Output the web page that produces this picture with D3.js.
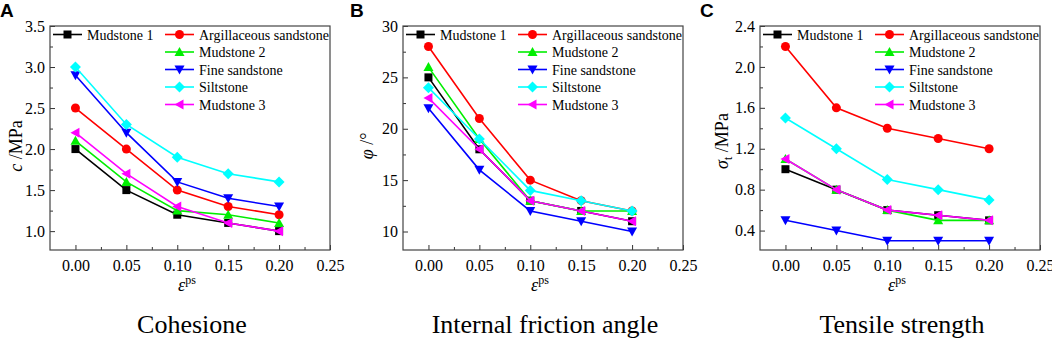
<!DOCTYPE html>
<html>
<head>
<meta charset="utf-8">
<script src="https://cdn.jsdelivr.net/npm/d3@7"></script>
<style>
  html, body { margin: 0; padding: 0; background: #fff; }
  svg { display: block; }
  text { fill: #000; }
</style>
</head>
<body>
<svg id="chart" width="1052" height="341"></svg>
<script>
// ---------------- DATA ----------------
const xValues = [0.00, 0.05, 0.10, 0.15, 0.20];
const xTicks = [0.00, 0.05, 0.10, 0.15, 0.20, 0.25];
const seriesNames = ["Mudstone 1", "Argillaceous sandstone", "Mudstone 2", "Fine sandstone", "Siltstone", "Mudstone 3"];

// Cohesion c (MPa)
const cohesionValues = [
  [2.0, 1.5, 1.2, 1.1, 1.0],
  [2.5, 2.0, 1.5, 1.3, 1.2],
  [2.1, 1.6, 1.25, 1.2, 1.1],
  [2.9, 2.2, 1.6, 1.4, 1.3],
  [3.0, 2.3, 1.9, 1.7, 1.6],
  [2.2, 1.7, 1.3, 1.1, 1.0]
];
const cohesionTicks = [1.0, 1.5, 2.0, 2.5, 3.0, 3.5];

// Internal friction angle phi (deg)
const frictionValues = [
  [25, 18, 13, 12, 11],
  [28, 21, 15, 13, 12],
  [26, 19, 13, 12, 12],
  [22, 16, 12, 11, 10],
  [24, 19, 14, 13, 12],
  [23, 18, 13, 12, 11]
];
const frictionTicks = [10, 15, 20, 25, 30];

// Tensile strength sigma_t (MPa)
const tensileValues = [
  [1.0, 0.8, 0.6, 0.55, 0.5],
  [2.2, 1.6, 1.4, 1.3, 1.2],
  [1.1, 0.8, 0.6, 0.5, 0.5],
  [0.5, 0.4, 0.3, 0.3, 0.3],
  [1.5, 1.2, 0.9, 0.8, 0.7],
  [1.1, 0.8, 0.6, 0.55, 0.5]
];
const tensileTicks = [0.4, 0.8, 1.2, 1.6, 2.0, 2.4];

const panelTitles = ["Cohesione", "Internal friction angle", "Tensile strength"];
const panelLetters = ["A", "B", "C"];

// ---------------- STYLE ----------------
const serif = '"Liberation Serif", "Times New Roman", serif';
const sans = '"Liberation Sans", Arial, sans-serif';
const seriesColors = ["#000000", "#ff0000", "#00ee00", "#0000ff", "#00ffff", "#ff00ff"];
const seriesShapes = ["square", "circle", "up", "down", "diamond", "left"];

const svg = d3.select("#chart").style("font-family", serif);

function markerPath(shape, s) {
  const h = s / 2;
  switch (shape) {
    case "square": return `M${-h},${-h}H${h}V${h}H${-h}Z`;
    case "circle": return `M${h + 0.5},0A${h + 0.5},${h + 0.5} 0 1,1 ${-h - 0.5},0A${h + 0.5},${h + 0.5} 0 1,1 ${h + 0.5},0Z`;
    case "up": return `M0,${-h - 1}L${h + 1},${h}L${-h - 1},${h}Z`;
    case "down": return `M0,${h + 1}L${h + 1},${-h}L${-h - 1},${-h}Z`;
    case "diamond": return `M0,${-h - 1.5}L${h + 1.5},0L0,${h + 1.5}L${-h - 1.5},0Z`;
    case "left": return `M${-h - 1},0L${h},${-h - 1}L${h},${h + 1}Z`;
  }
}

const panels = [
  { left: 50, letterX: 0, values: cohesionValues, ticks: cohesionTicks, domain: [0.77, 3.5], fmt: d3.format(".1f"),
    ylab: (g) => { g.append("tspan").style("font-style", "italic").text("c"); g.append("tspan").text(" /MPa"); },
    ylabX: 22, ylabY: 146 },
  { left: 403, letterX: 350, values: frictionValues, ticks: frictionTicks, domain: [8.2, 30], fmt: d3.format("d"),
    ylab: (g) => { g.append("tspan").style("font-style", "italic").text("φ"); g.append("tspan").text(" /°"); },
    ylabX: 373, ylabY: 146 },
  { left: 760, letterX: 700, values: tensileValues, ticks: tensileTicks, domain: [0.21, 2.4], fmt: d3.format(".1f"),
    ylab: (g) => { g.append("tspan").style("font-style", "italic").text("σ");
                   g.append("tspan").style("font-size", "12px").attr("dy", 4).text("t");
                   g.append("tspan").attr("dy", -4).text(" /MPa"); },
    ylabX: 728, ylabY: 141 }
];

const plotTop = 26, plotBottom = 250, plotWidth = 280;

panels.forEach((p, pi) => {
  const x = d3.scaleLinear().domain([-0.025, 0.25]).range([p.left, p.left + plotWidth]);
  const y = d3.scaleLinear().domain(p.domain).range([plotBottom, plotTop]);
  const g = svg.append("g");

  // minor ticks
  const xMinor = [0.025, 0.075, 0.125, 0.175, 0.225];
  const step = p.ticks[1] - p.ticks[0];
  const yMinor = [];
  for (let v = p.ticks[0] - step / 2; v < p.domain[1]; v += step) {
    if (v > p.domain[0]) yMinor.push(v);
  }

  // x axis (bottom)
  const xAxis = d3.axisBottom(x).tickValues(xTicks).tickFormat(d3.format(".2f")).tickSizeInner(-5).tickSizeOuter(0).tickPadding(10);
  const xg = g.append("g").attr("transform", `translate(0,${plotBottom})`).call(xAxis);
  xg.select(".domain").remove();
  xg.selectAll("line").attr("stroke", "#333");
  xg.selectAll("text").style("font-family", serif).style("font-size", "16px").attr("fill", "#000");
  const xmg = g.append("g").attr("transform", `translate(0,${plotBottom})`)
    .call(d3.axisBottom(x).tickValues(xMinor).tickFormat("").tickSizeInner(-3).tickSizeOuter(0));
  xmg.select(".domain").remove();
  xmg.selectAll("line").attr("stroke", "#333");

  // y axis (left)
  const yAxis = d3.axisLeft(y).tickValues(p.ticks).tickFormat(p.fmt).tickSizeInner(-5).tickSizeOuter(0).tickPadding(5);
  const yg = g.append("g").attr("transform", `translate(${p.left},0)`).call(yAxis);
  yg.select(".domain").remove();
  yg.selectAll("line").attr("stroke", "#333");
  yg.selectAll("text").style("font-family", serif).style("font-size", "16px").attr("fill", "#000");
  const ymg = g.append("g").attr("transform", `translate(${p.left},0)`)
    .call(d3.axisLeft(y).tickValues(yMinor).tickFormat("").tickSizeInner(-3).tickSizeOuter(0));
  ymg.select(".domain").remove();
  ymg.selectAll("line").attr("stroke", "#333");

  // frame
  g.append("rect").attr("x", p.left).attr("y", plotTop).attr("width", plotWidth).attr("height", plotBottom - plotTop)
    .attr("fill", "none").attr("stroke", "#444").attr("stroke-width", 1.2);

  // series
  const line = d3.line().x((d, i) => x(xValues[i])).y(d => y(d));
  p.values.forEach((vals, si) => {
    const sg = g.append("g");
    sg.append("path").datum(vals).attr("d", line).attr("fill", "none")
      .attr("stroke", seriesColors[si]).attr("stroke-width", 1.6);
    sg.selectAll("path.m").data(vals).join("path").attr("class", "m")
      .attr("transform", (d, i) => `translate(${x(xValues[i])},${y(d)})`)
      .attr("d", markerPath(seriesShapes[si], 8))
      .attr("fill", seriesColors[si]);
  });

  // legend
  const rowsY = [34.5, 52, 69.5, 87, 104.5];
  seriesNames.forEach((name, si) => {
    const col = si === 0 ? 0 : 1;
    const row = si === 0 ? 0 : si - 1;
    const lx0 = p.left + (col === 0 ? 3 : 115);
    const lx1 = lx0 + 29;
    const ly = rowsY[row];
    g.append("line").attr("x1", lx0).attr("x2", lx1).attr("y1", ly).attr("y2", ly)
      .attr("stroke", seriesColors[si]).attr("stroke-width", 1.6);
    g.append("path").attr("transform", `translate(${(lx0 + lx1) / 2},${ly})`)
      .attr("d", markerPath(seriesShapes[si], 8)).attr("fill", seriesColors[si]);
    g.append("text").attr("x", lx1 + 5).attr("y", ly + 5).style("font-size", "14px").text(name);
  });

  // y label
  const yl = g.append("text").style("font-size", "18px").attr("text-anchor", "middle")
    .attr("transform", `translate(${p.ylabX},${p.ylabY}) rotate(-90)`);
  p.ylab(yl);

  // x label
  const cx = p.left + plotWidth / 2 - 3;
  const xl = g.append("text").attr("x", cx).attr("y", 291).attr("text-anchor", "middle").style("font-size", "18px");
  xl.append("tspan").style("font-style", "italic").text("ε");
  xl.append("tspan").style("font-size", "12px").attr("dy", -7).text("ps");

  // panel title
  g.append("text").attr("x", p.left + plotWidth / 2 + 2).attr("y", 333).attr("text-anchor", "middle")
    .style("font-size", "26px").text(panelTitles[pi]);

  // panel letter
  g.append("text").attr("x", p.letterX).attr("y", 17)
    .style("font-family", sans).style("font-weight", "bold").style("font-size", "19px")
    .text(panelLetters[pi]);
});
</script>
</body>
</html>
